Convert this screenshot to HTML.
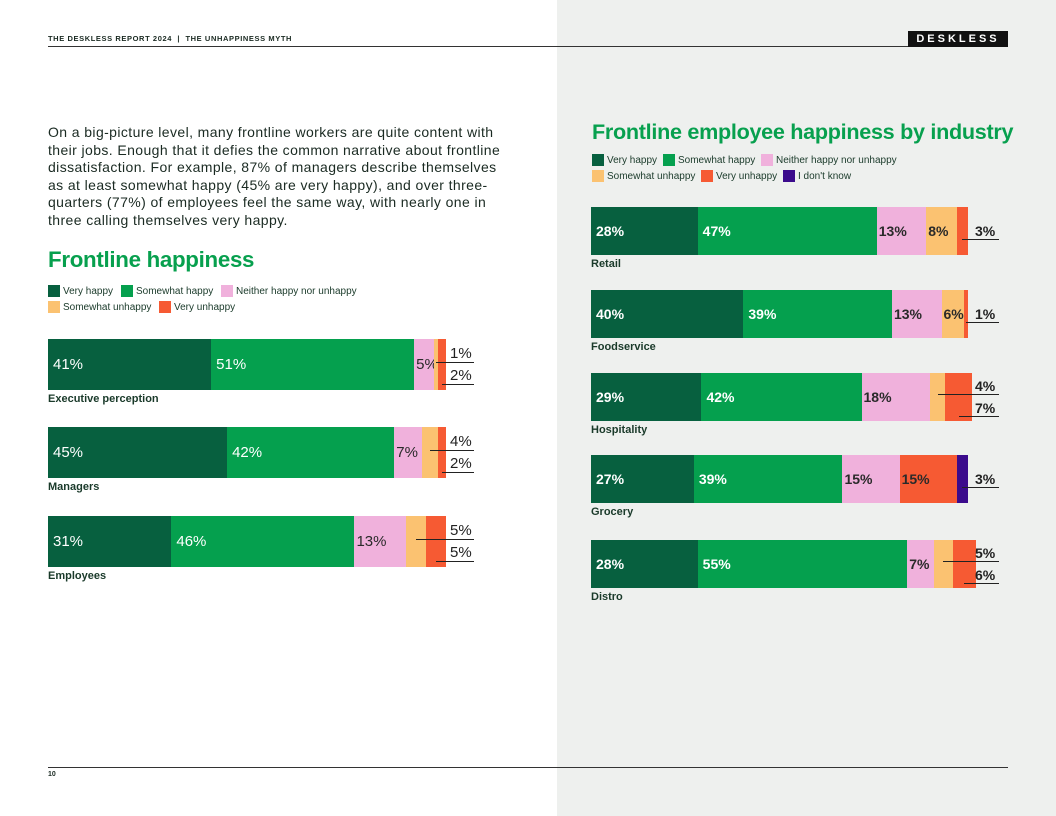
<!DOCTYPE html>
<html><head><meta charset="utf-8">
<style>
body{margin:0;width:1056px;height:816px;position:relative;overflow:hidden;background:#fff;font-family:"Liberation Sans",sans-serif;color:#1a2a22}
.abs{position:absolute}
.right{left:557px;top:0;width:499px;height:816px;background:#eef0ee}
.h1{font-weight:bold;color:#07a04e;font-size:22.3px;letter-spacing:-0.3px}
.leg{font-size:10px;color:#1a3a2a;display:flex;align-items:center;white-space:nowrap}
.sw{display:inline-block;width:12px;height:12px;margin-right:3px}
.lab{font-size:11px;font-weight:bold;color:#1a3a2a}
</style></head><body>
<div class="abs right"></div>
<div class="abs" style="left:48px;top:34px;font-size:7.5px;font-weight:bold;letter-spacing:0.6px">THE DESKLESS REPORT 2024 &nbsp;|&nbsp; THE UNHAPPINESS MYTH</div>
<div class="abs" style="left:48px;top:46px;width:960px;height:1px;background:#333"></div>
<div class="abs" style="left:908px;top:31px;width:100px;height:16px;background:#111;color:#fff;font-size:11px;font-weight:bold;letter-spacing:3px;text-align:center;line-height:16px">DESKLESS</div>
<div class="abs" style="left:48px;top:124px;white-space:nowrap;font-size:14px;letter-spacing:0.4px;line-height:17.5px;color:#1a2a22">On a big-picture level, many frontline workers are quite content with<br>their jobs. Enough that it defies the common narrative about frontline<br>dissatisfaction. For example, 87% of managers describe themselves<br>as at least somewhat happy (45% are very happy), and over three-<br>quarters (77%) of employees feel the same way, with nearly one in<br>three calling themselves very happy.</div>
<div class="abs h1" style="left:48px;top:247px">Frontline happiness</div>
<div class="abs h1" style="left:592px;top:119px;font-size:21.6px">Frontline employee happiness by industry</div>
<div class="abs" style="left:48px;top:767px;width:960px;height:1px;background:#333"></div>
<div class="abs" style="left:48px;top:771px;font-size:7px;font-weight:bold">10</div>
<div id="root"></div>
<script>
const colors=["#07603f","#05a04e","#f0b1dc","#fbc271","#f65a33","#3b0b8c"];
const textColors=["#fff","#fff","#2a2a2a","#2a2a2a","#2a2a2a","#fff"];
const legendNames=["Very happy","Somewhat happy","Neither happy nor unhappy","Somewhat unhappy","Very unhappy","I don't know"];
const rightLegendNames=["Very happy","Somewhat happy","Neither happy nor unhappy","Somewhat unhappy","Very unhappy","I don't know"];
const leftCategories=["Executive perception","Managers","Employees"];
const leftValues=[[41,51,5,1,2,0],[45,42,7,4,2,0],[31,46,13,5,5,0]];
const leftOutside=[[3,4],[3,4],[3,4]];
const rightCategories=["Retail","Foodservice","Hospitality","Grocery","Distro"];
const rightValues=[[28,47,13,8,3,0],[40,39,13,6,1,0],[29,42,18,4,7,0],[27,39,15,0,15,3],[28,55,7,5,6,0]];
const rightOutside=[[4],[4],[3,4],[5],[3,4]];
const root=document.getElementById('root');
function el(tag,css,txt){const e=document.createElement(tag);e.className='abs';e.style.cssText=css;if(txt!==undefined)e.textContent=txt;root.appendChild(e);return e;}
function legendRow(x,y,idx,names,gap){let cx=x;idx.forEach(i=>{const d=el('div','left:'+cx+'px;top:'+y+'px');d.className='abs leg';


d.innerHTML='<span class="sw" style="background:'+colors[i]+'"></span>'+names[i];cx+=d.offsetWidth+gap;});}
legendRow(48,285,[0,1,2],legendNames,8);
legendRow(48,301,[3,4],legendNames,8);
legendRow(592,154,[0,1,2],rightLegendNames,6);
legendRow(592,170,[3,4,5],rightLegendNames,6);
function chart(cats,vals,outs,x0,scale,tops,h,labOff,bold,fs,labX){
  cats.forEach((c,ri)=>{
    const top=tops[ri];let x=x0;
    const xs=[];
    vals[ri].forEach((v,i)=>{
      const w=v*scale;xs.push([x,w]);
      if(v>0){const b=el('div','left:'+x+'px;top:'+top+'px;width:'+w+'px;height:'+h+'px;background:'+colors[i]);
        
        
        if(outs[ri].indexOf(i)<0){const t=el('div','left:'+(x+(i<2?5:2))+'px;top:'+(top+h/2-9)+'px;font-size:'+fs+'px;line-height:18px;font-weight:'+(bold?'bold':'normal')+';color:'+textColors[i],v+'%');
          
          }
      }
      x+=w;
    });
    const o=outs[ri];
    o.forEach((i,k)=>{
      const cy=o.length===1?top+h/2:(k===0?top+h/2-11:top+h/2+11);
      const sx=xs[i][0]+xs[i][1]/2;
      const ln=el('div','left:'+sx+'px;top:'+(cy+8)+'px;width:'+(labX+24-sx)+'px;height:1px;background:#222');
      
      
      const t=el('div','left:'+labX+'px;top:'+(cy-9)+'px;font-size:'+fs+'px;line-height:18px;font-weight:'+(bold?'bold':'normal')+';color:#222',vals[ri][i]+'%');
      
      
    });
    const l=el('div','left:'+x0+'px;top:'+(top+h+labOff)+'px');l.className='abs lab';l.textContent=c;
    
    
  });
}
chart(leftCategories,leftValues,leftOutside,48,3.98,[339,427,516],51,3,false,15,450);
chart(rightCategories,rightValues,rightOutside,591,3.81,[207,290,373,455,540],48,3,true,14,975);
</script>
</body></html>
